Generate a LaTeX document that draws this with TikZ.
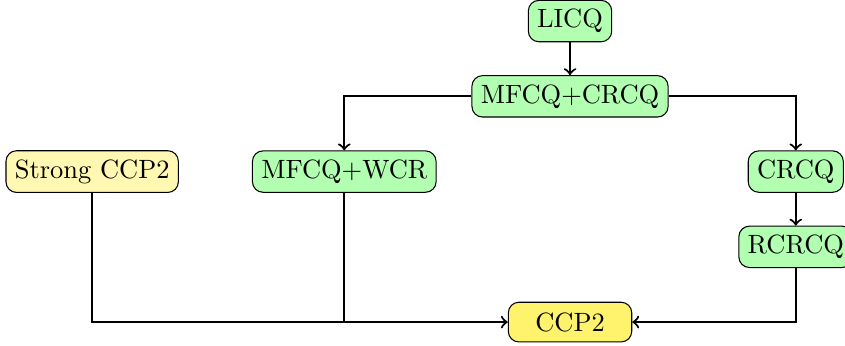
\documentclass[tikz,border=0pt]{standalone}
\usepackage{tikz}
\usetikzlibrary{positioning}
\tikzset{
    roundnode/.style = {draw, rectangle, rounded corners=0.4em, inner sep = 0.333em,
      node distance=0em, minimum height=1.5em, font=\normalsize},
    greennode/.style = {roundnode, fill=green!30},
    yellownode/.style = {roundnode, fill=paleyel},
    goalnode/.style = {roundnode, fill=yel, minimum width=1.64cm},
    connect/.style = {black, thick, ->},
    joinline/.style = {black, thick}
}
\definecolor{paleyel}{RGB}{255, 248, 178}
\definecolor{yel}{RGB}{255, 243, 110}

\begin{document}
\begin{tikzpicture}
\useasboundingbox (-7.575,-4.306) rectangle (3.654,0.28);
\node [greennode, name=licq] {LICQ};
\node [greennode, name=mfcqcrcq, below of=licq, yshift=-1cm] {MFCQ+CRCQ};
\node [greennode, name=mfcqwcr, below of=mfcqcrcq, xshift=-3cm, yshift=-1cm] {MFCQ+WCR};
\node [greennode, name=crcq, below of=mfcqcrcq, xshift=3cm, yshift=-1cm] {CRCQ};
\node [greennode, name=rcrcq, below of=crcq, yshift=-1cm] {RCRCQ};
\node [yellownode, name=strong, left of=mfcqwcr, xshift=-3.35cm] {Strong CCP2};
\node [goalnode, name=ccp2, below of=licq, yshift=-4cm] {CCP2};

\draw [connect] (licq) -- (mfcqcrcq);
\draw [connect] (mfcqcrcq.west) -| (mfcqwcr.north);
\draw [connect] (mfcqcrcq.east) -| (crcq.north);
\draw [connect] (crcq) -- (rcrcq);
\draw [connect] (rcrcq.south) |- (ccp2.east);
\draw [connect] (strong.south) |- (ccp2.west);
\draw [joinline] (mfcqwcr.south) -- (mfcqwcr.south |- ccp2.west);
\end{tikzpicture}
\end{document}
